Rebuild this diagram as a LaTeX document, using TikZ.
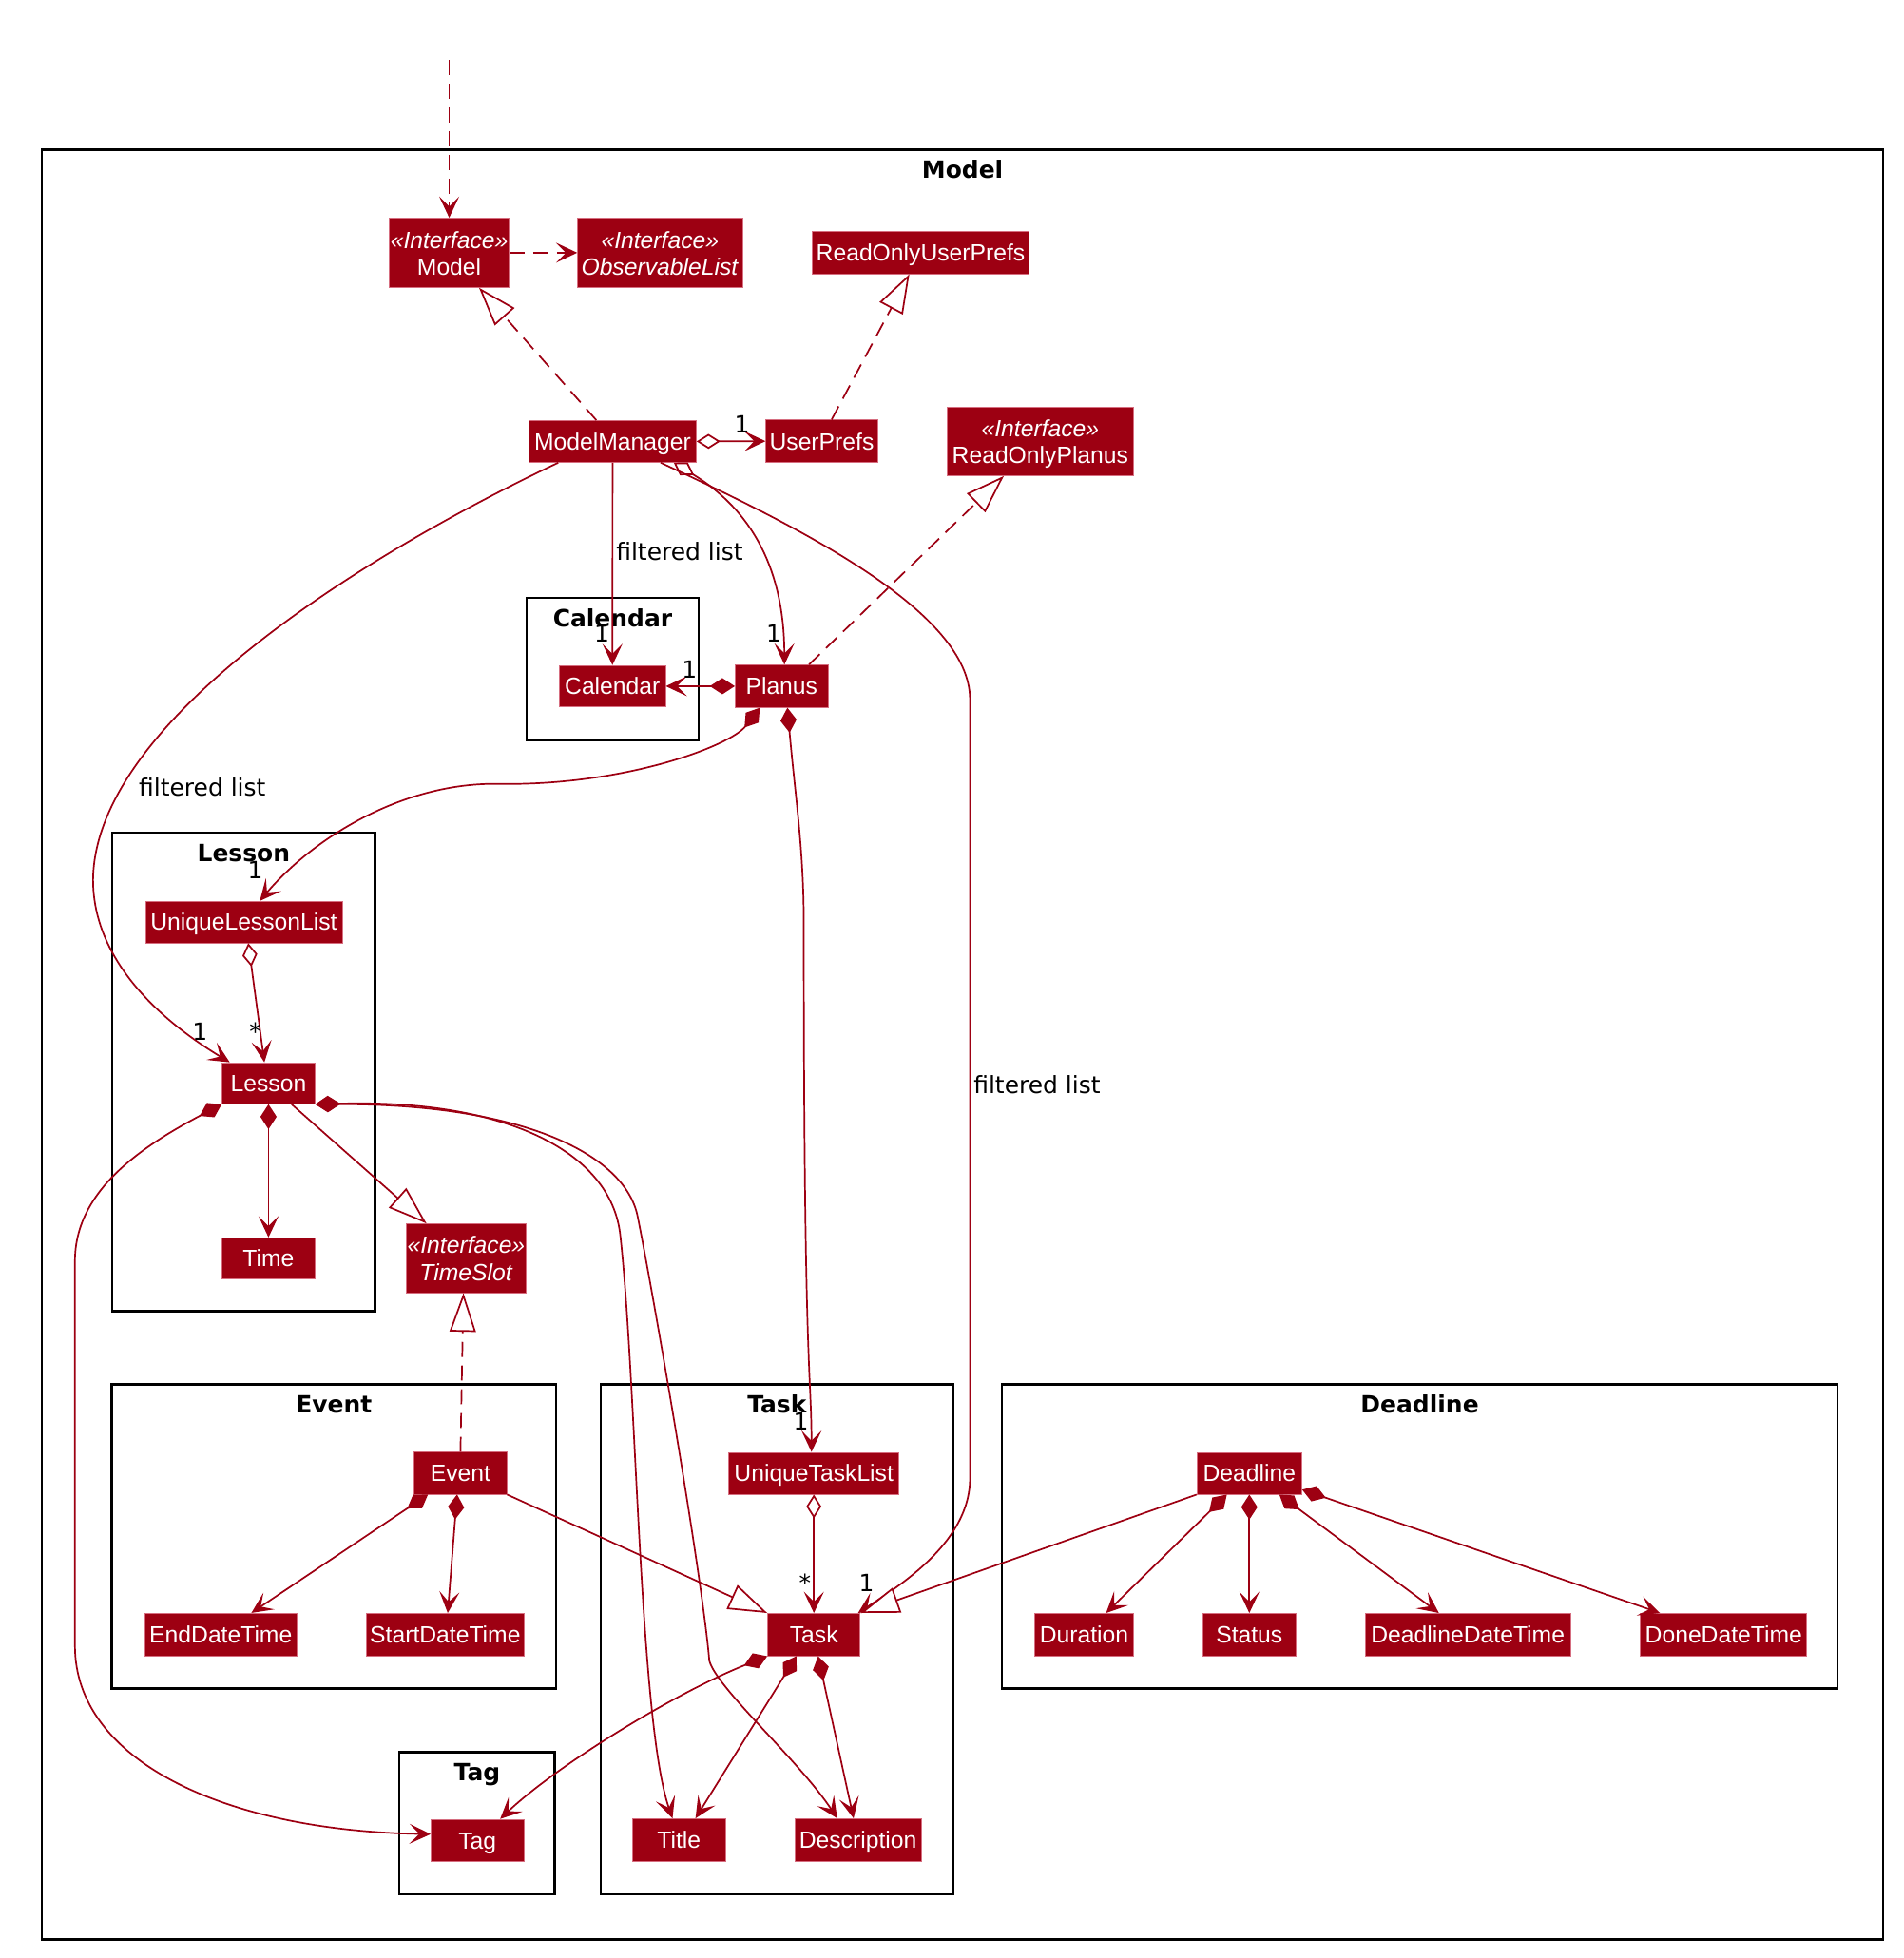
\documentclass[tikz,border=0pt]{standalone}
\usepackage{fontspec}
\setmainfont{Liberation Sans}
\newfontfamily\lblfont{DejaVu Sans}
\usetikzlibrary{arrows.meta,calc}
\definecolor{mred}{HTML}{9D0012}
\definecolor{mborder}{RGB}{214,110,128}
\tikzset{
  uhead/.tip={Stealth[length=17pt,width=16pt,inset=8pt]},
  uodia/.tip={Diamond[length=19pt,width=12pt,fill=white]},
  ufdia/.tip={Diamond[length=20pt,width=13pt]},
  utri/.tip={Triangle[length=31pt,width=21pt,fill=white]},
}
\begin{document}
\begin{tikzpicture}[x=1pt,y=-1pt,
  cls/.style={draw=mborder,line width=0.6pt,fill=mred,text=white,inner sep=0pt,
    font=\fontsize{18.8}{21.6}\selectfont},
  cls1/.style={cls,text height=17pt,text depth=3.5pt},
  cls2/.style={cls,align=center},
  pkg/.style={draw=black,line width=1.9pt,inner sep=0pt},
  ptitle/.style={anchor=base,inner sep=0pt,font=\lblfont\bfseries\fontsize{19}{20}\selectfont},
  lbl/.style={inner sep=0pt,font=\lblfont\fontsize{19}{21}\selectfont},
  edge/.style={draw=mred,line width=1.3pt},
  dep/.style={edge,dash pattern=on 12pt off 7pt,-uhead},
  assoc/.style={edge,-uhead},
  agg/.style={edge,uodia-uhead},
  comp/.style={edge,ufdia-uhead},
  real/.style={edge,dash pattern=on 12pt off 7pt,-utri},
  gen/.style={edge,-utri},
]
\path[use as bounding box] (0,0) rectangle (1524,1568);

% packages
\node[pkg,minimum width=1474.5pt,minimum height=1433pt] (pModel) at (770.75,836.5) {};
\node[pkg,minimum width=137.7pt,minimum height=114pt] (pCal) at (490.55,535.6) {};
\node[pkg,minimum width=210.3pt,minimum height=383.4pt] (pLesson) at (195.15,858.5) {};
\node[pkg,minimum width=355.7pt,minimum height=243.6pt] (pEvent) at (267.35,1230.4) {};
\node[pkg,minimum width=281.8pt,minimum height=408.3pt] (pTask) at (622.1,1312.75) {};
\node[pkg,minimum width=124.5pt,minimum height=113.6pt] (pTag) at (382.05,1460.1) {};
\node[pkg,minimum width=669.3pt,minimum height=243.6pt] (pDeadline) at (1136.85,1230.4) {};

\node[ptitle] (tModel) at ($(pModel.north)+(0,23.4)$) {Model};
\node[ptitle] (tCal) at ($(pCal.north)+(0,24)$) {Calendar};
\node[ptitle] (tLesson) at ($(pLesson.north)+(0,24.5)$) {Lesson};
\node[ptitle] (tEvent) at ($(pEvent.north)+(0,24)$) {Event};
\node[ptitle] (tTask) at ($(pTask.north)+(0,24)$) {Task};
\node[ptitle] (tTag) at ($(pTag.north)+(0,24)$) {Tag};
\node[ptitle] (tDeadline) at ($(pDeadline.north)+(0,24)$) {Deadline};

% classes
\node[cls2,minimum width=96pt,minimum height=55.5pt] (model) at (359.7,202.4)
  {\rule{0pt}{18.3pt}\textit{«Interface»}\\Model\rule[-4pt]{0pt}{4pt}};
\node[cls2,minimum width=132pt,minimum height=55.5pt] (obslist) at (528.5,202.4)
  {\rule{0pt}{18.3pt}\textit{«Interface»}\\\textit{ObservableList}\rule[-4pt]{0pt}{4pt}};
\node[cls1,minimum width=173.4pt,minimum height=33.8pt] (roup) at (737.2,202.4) {ReadOnlyUserPrefs};
\node[cls1,minimum width=134pt,minimum height=33.5pt] (mm) at (490.5,353.5) {ModelManager};
\node[cls1,minimum width=89.4pt,minimum height=34pt] (up) at (658,353.3) {UserPrefs};
\node[cls2,minimum width=149pt,minimum height=55pt] (rop) at (833,353.4)
  {\rule{0pt}{18.3pt}\textit{«Interface»}\\ReadOnlyPlanus\rule[-4pt]{0pt}{4pt}};
\node[cls1,minimum width=84.8pt,minimum height=33.2pt] (cal) at (490.4,549.5) {Calendar};
\node[cls1,minimum width=74.4pt,minimum height=34pt] (planus) at (625.9,549.5) {Planus};
\node[cls1,minimum width=157.5pt,minimum height=33.2pt] (ull) at (195.2,738.4) {UniqueLessonList};
\node[cls1,minimum width=74.4pt,minimum height=33pt] (lesson) at (215,867.5) {Lesson};
\node[cls1,minimum width=74.4pt,minimum height=33.2pt] (time) at (215,1007.8) {Time};
\node[cls2,minimum width=95.4pt,minimum height=55.1pt] (timeslot) at (373.3,1007.6)
  {\rule{0pt}{18.3pt}\textit{«Interface»}\\\textit{TimeSlot}\rule[-4pt]{0pt}{4pt}};
\node[cls1,minimum width=74.1pt,minimum height=33.7pt] (event) at (368.7,1179.7) {Event};
\node[cls1,minimum width=121.8pt,minimum height=34pt] (enddt) at (176.8,1308.9) {EndDateTime};
\node[cls1,minimum width=125.8pt,minimum height=34pt] (startdt) at (356.5,1309) {StartDateTime};
\node[cls1,minimum width=136.5pt,minimum height=33.6pt] (utl) at (651.7,1179.8) {UniqueTaskList};
\node[cls1,minimum width=74.1pt,minimum height=34pt] (task) at (651.7,1309) {Task};
\node[cls1,minimum width=74.4pt,minimum height=34.3pt] (title) at (543.7,1473.6) {Title};
\node[cls1,minimum width=101.4pt,minimum height=34.3pt] (desc) at (687,1473.6) {Description};
\node[cls1,minimum width=74.3pt,minimum height=33.7pt] (tag) at (382.3,1473.8) {Tag};
\node[cls1,minimum width=84pt,minimum height=33.6pt] (deadline) at (1000.4,1179.8) {Deadline};
\node[cls1,minimum width=78.8pt,minimum height=34pt] (duration) at (868.1,1309) {Duration};
\node[cls1,minimum width=74.5pt,minimum height=34pt] (status) at (1000.4,1309) {Status};
\node[cls1,minimum width=164.4pt,minimum height=34pt] (ddt) at (1175.4,1309) {DeadlineDateTime};
\node[cls1,minimum width=133.3pt,minimum height=34pt] (donedt) at (1380.2,1309) {DoneDateTime};

% connectors
\coordinate (entry) at (359.7,48);
\draw[dep] (entry) -- (model.north);
\draw[dep] (model.east) -- (obslist.west);
\draw[real] ($(mm.north)+(-13,0)$) -- ($(model.south)+(23.9,0)$);
\draw[real] ($(up.north)+(7.9,0)$) -- ($(roup.south)+(-9,0)$);
\draw[real] ($(planus.north)+(21.9,0)$) -- ($(rop.south)+(-29.2,0)$);

\draw[agg] (mm.east) -- (up.west);
\draw[agg] ($(mm.south)+(49,0)$) .. controls (588,400) and (628,440) .. ($(planus.north)+(2.2,0)$);
\draw[assoc] (mm.south) -- (cal.north);
\draw[assoc] ($(mm.south)+(-43.5,0)$) .. controls (300,440) and (76,575) .. (74.5,704.4)
  .. controls (74.5,770) and (130,818) .. ($(lesson.north)+(-31,0)$);
\draw[assoc] ($(mm.south)+(38.5,0)$) .. controls (640,422) and (776.7,490) .. (776.7,560)
  -- (776.7,1184) .. controls (776.7,1235) and (720,1270) .. ($(task.north east)+(-2,0)$);

\draw[comp] (planus.west) -- (cal.east);
\draw[comp] ($(planus.south)+(-17.5,0)$) .. controls (585,597) and (500,630) .. (396,627.7)
  .. controls (320,627.7) and (250,672) .. ($(ull.north)+(12.8,0)$);
\draw[comp] ($(planus.south)+(4.6,0)$) .. controls (637,640) and (643.6,680) .. (643.6,740)
  .. controls (643.6,1100) and (649.8,1100) .. ($(utl.north)+(-1.9,0)$);

\draw[agg] ($(ull.south)+(3.6,0)$) -- ($(lesson.north)+(-3.3,0)$);
\draw[comp] (lesson.south) -- (time.north);
\draw[gen] ($(lesson.south)+(18.5,0)$) -- ($(timeslot.north)+(-31.8,0)$);
\draw[comp] (lesson.south west) .. controls (110,920) and (60,955) .. (60,1010)
  -- (60,1318) .. controls (60,1410) and (180,1466) .. ($(tag.west)+(0,-5)$);
\draw[comp] (lesson.south east) .. controls (400,880) and (490,920) .. (496.8,990.3)
  .. controls (510,1110) and (512,1380) .. ($(title.north)+(-5.2,0)$);
\draw[comp] (lesson.south east) .. controls (420,884) and (500,925) .. (510.4,973.3)
  .. controls (522,1030) and (562,1260) .. (568,1330)
  .. controls (574,1352) and (640,1410) .. ($(desc.north)+(-16.6,0)$);

\draw[comp] ($(task.south)+(-14,0)$) -- ($(title.north)+(13.2,0)$);
\draw[comp] ($(task.south)+(3.4,0)$) -- ($(desc.north)+(-3.5,0)$);
\draw[comp] (task.south west) .. controls (540,1356) and (445.5,1414) .. ($(tag.north)+(18.2,0)$);
\draw[agg] (utl.south) -- (task.north);
\draw[gen] (event.south east) -- (task.north west);
\draw[gen] (deadline.south west) -- (task.north east);
\draw[real] (event.north) -- ($(timeslot.south)+(-2.2,0)$);
\draw[comp] ($(event.south)+(-26,0)$) -- ($(enddt.north)+(24.5,0)$);
\draw[comp] ($(event.south)+(-2.7,0)$) -- ($(startdt.north)+(2,0)$);

\draw[comp] ($(deadline.south)+(-18,0)$) -- ($(duration.north)+(17.6,0)$);
\draw[comp] (deadline.south) -- (status.north);
\draw[comp] ($(deadline.south)+(24,0)$) -- ($(ddt.north)+(-23.2,0)$);
\draw[comp] ($(deadline.south east)+(0,-4)$) -- ($(donedt.north)+(-51,0)$);

% multiplicities and role labels
\node[lbl] (m1) at (594.2,339.7) {1};
\node[lbl] (m2) at (619.6,507.5) {1};
\node[lbl] (m3) at (481.9,507) {1};
\node[lbl] (m4) at (552,536.5) {1};
\node[lbl] (m5) at (204.4,697) {1};
\node[lbl] (m6) at (160.1,825.9) {1};
\node[lbl,anchor=north] (m7) at (204.4,818.8) {*};
\node[lbl] (m8) at (641.3,1138) {1};
\node[lbl,anchor=north] (m9) at (644.6,1260.4) {*};
\node[lbl] (m10) at (693.9,1267.3) {1};
\node[lbl] (f1) at (544.2,441.7) {filtered list};
\node[lbl] (f2) at (162,630.2) {filtered list};
\node[lbl] (f3) at (830.4,868.8) {filtered list};
\end{tikzpicture}
\end{document}
